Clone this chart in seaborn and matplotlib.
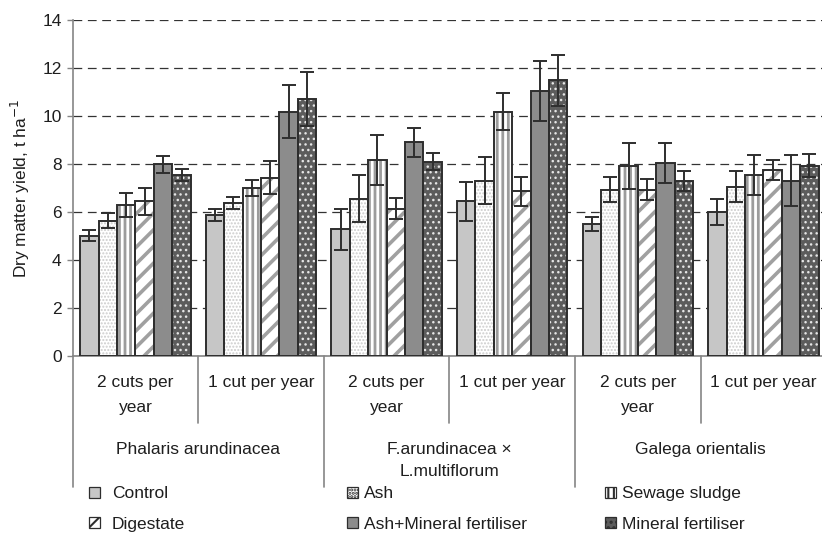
import pandas as pd
import seaborn as sns
import matplotlib.pyplot as plt
from matplotlib.patches import Rectangle, Patch

# Categories
species = ['Phalaris arundinacea', 'F.arundinacea ×\nL.multiflorum', 'Galega orientalis']
cuts = ['2 cuts per\nyear', '1 cut per year']
treatments = ['Control', 'Ash', 'Sewage sludge', 'Digestate',
              'Ash+Mineral fertiliser', 'Mineral fertiliser']

# Mean yields, t/ha, order: P 2cuts, P 1cut, F 2cuts, F 1cut, G 2cuts, G 1cut
control = [5.01, 5.89, 5.28, 6.44, 5.51, 6.00]
ash = [5.64, 6.37, 6.56, 7.31, 6.93, 7.06]
sewage = [6.30, 7.00, 8.17, 10.18, 7.92, 7.54]
digestate = [6.44, 7.43, 6.14, 6.86, 6.93, 7.74]
ash_mineral = [7.99, 10.18, 8.90, 11.04, 8.03, 7.31]
mineral = [7.54, 10.72, 8.10, 11.48, 7.29, 7.92]

# Error bar half-lengths
control_err = [0.23, 0.25, 0.85, 0.80, 0.30, 0.55]
ash_err = [0.31, 0.25, 0.97, 0.98, 0.52, 0.65]
sewage_err = [0.50, 0.34, 1.05, 0.78, 0.96, 0.83]
digestate_err = [0.55, 0.70, 0.45, 0.61, 0.43, 0.42]
ash_mineral_err = [0.35, 1.10, 0.62, 1.26, 0.84, 1.07]
mineral_err = [0.25, 1.12, 0.35, 1.07, 0.42, 0.48]

means = [control, ash, sewage, digestate, ash_mineral, mineral]
errs = [control_err, ash_err, sewage_err, digestate_err, ash_mineral_err, mineral_err]

slots = [f'{s}|{c}' for s in species for c in cuts]
rows = []
for t, vals in zip(treatments, means):
    for slot, v in zip(slots, vals):
        rows.append({'slot': slot, 'treatment': t, 'yield': v})
df = pd.DataFrame(rows)

sns.set_theme(style='white')
plt.rcParams['font.family'] = ['Liberation Sans', 'DejaVu Sans']
plt.rcParams['font.size'] = 12.5
plt.rcParams['hatch.linewidth'] = 1.5

fs = 12.5
txt = '#1e1e1e'
edge = '#2e2e2e'
axis_col = '#858585'

# fill, hatch, hatch colour, hatch width
styles = [
    ('#c6c6c6', None, None, 1.0),
    ('white', '.....', '#cccccc', 1.0),
    ('white', '|||', '#9c9c9c', 2.0),
    ('white', '//', '#a0a0a0', 2.6),
    ('#8c8c8c', None, None, 1.0),
    ('#5c5c5c', '...', '#e6e6e6', 1.0),
]

fig = plt.figure(figsize=(8.22, 5.39), dpi=100)
ax = fig.add_axes([72.7 / 822, 1 - 356 / 539, 753.5 / 822, 336 / 539])

sns.barplot(data=df, x='slot', y='yield', hue='treatment', order=slots,
            hue_order=treatments, width=0.88, errorbar=None, ax=ax,
            legend=False, zorder=2)

bar_conts = list(ax.containers)
for k, cont in enumerate(bar_conts):
    fc, hatch, hc, hw = styles[k]
    for p in cont:
        p.set_facecolor(fc)
        p.set_linewidth(0)
        if hatch:
            p.set_hatch(hatch)
            p.set_edgecolor(hc)
            if hasattr(p, 'set_hatch_linewidth'):
                p.set_hatch_linewidth(hw)
        ax.add_patch(Rectangle(p.get_xy(), p.get_width(), p.get_height(),
                               fill=False, ec=edge, lw=1.4, zorder=3))
        xc = p.get_x() + p.get_width() / 2
        i = int(round(xc))
        ax.errorbar(xc, p.get_height(), yerr=errs[k][i], fmt='none',
                    ecolor=edge, elinewidth=1.4, capsize=5, capthick=1.4,
                    zorder=4)

ax.set_xlim(-0.5, 5.5)
ax.set_ylim(0, 14)
ax.set_yticks(range(0, 15, 2))
ax.set_xticks([])
ax.set_xlabel('')
ax.set_ylabel('Dry matter yield, t ha$^{\\mathsf{-1}}$', color=txt, fontsize=fs)
ax.yaxis.set_label_coords(-0.054, 0.5)
ax.yaxis.grid(True, color='#333333', lw=0.9, linestyle=(0, (7, 4.5)), zorder=0)
ax.set_axisbelow(True)
ax.tick_params(axis='y', direction='out', length=4.5, width=1,
               color=axis_col, labelcolor=txt, labelsize=fs, left=True, pad=3.5)
for s in ['top', 'right']:
    ax.spines[s].set_visible(False)
for s in ['left', 'bottom']:
    ax.spines[s].set_color(axis_col)
    ax.spines[s].set_linewidth(1.2)

# Two-level category axis
tr = ax.get_xaxis_transform()
def fy(py):
    return (356 - py) / 336

for i, slot in enumerate(slots):
    ax.text(i, fy(375), slot.split('|')[1], transform=tr, ha='center',
            va='top', color=txt, fontsize=fs, linespacing=1.8)
for j, s in enumerate(species):
    ax.text(2 * j + 0.5, fy(442), s, transform=tr, ha='center', va='top',
            color=txt, fontsize=fs, linespacing=1.6)
for b in range(7):
    y_end = fy(487) if b % 2 == 0 else fy(423)
    ax.plot([b - 0.5, b - 0.5], [0, y_end], transform=tr, color=axis_col,
            lw=1.2, clip_on=False)

# Legend in three columns
handles = [Patch(facecolor=fc, edgecolor=edge, hatch=h, lw=0.9)
           for fc, h, hc, hw in styles]
cols = [(89, 0.7), (347, 0.35), (605, 0.35)]
for c, (px, pad) in enumerate(cols):
    idx = [c, c + 3]
    fig.legend([handles[i] for i in idx], [treatments[i] for i in idx],
               loc='center left', bbox_to_anchor=(px / 822, 1 - 509 / 539),
               frameon=False, borderpad=0, borderaxespad=0,
               handlelength=0.63, handleheight=0.63, handletextpad=pad,
               labelspacing=0.88, fontsize=fs, labelcolor=txt)

fig.savefig('out.png', dpi=100)
